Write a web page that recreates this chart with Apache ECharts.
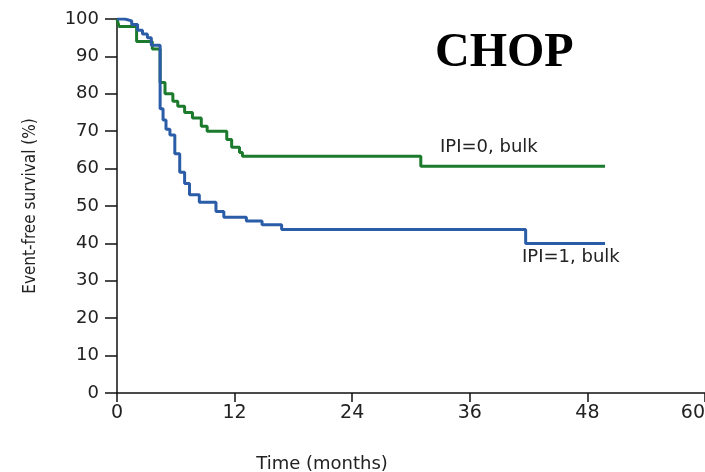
<!DOCTYPE html>
<html lang="en">
<head>
  <meta charset="UTF-8">
  <title>CHOP event-free survival</title>
  <script src="https://cdn.jsdelivr.net/npm/echarts@6/dist/echarts.min.js"></script>
  <style>
    html, body { margin: 0; padding: 0; background: #fff; }
    #chart { width: 705px; height: 472px; }
  </style>
</head>
<body>
  <div id="chart"></div>
  <script>
    // Kaplan-Meier step points (months, % event-free)
    var greenTimes = [0, 0.2, 2.0, 3.6, 4.4, 4.9, 5.7, 6.2, 6.9, 7.7, 8.6, 9.2, 11.2, 11.7, 12.5, 12.8, 31.0, 49.8];
    var greenSurv  = [100, 98, 94, 92, 83, 80, 78, 76.7, 75, 73.5, 71.3, 70, 67.8, 65.7, 64.3, 63.3, 60.6, 60.6];

    var blueTimes = [0, 0.8, 1.5, 2.1, 2.6, 3.1, 3.5, 4.4, 4.7, 5.0, 5.4, 5.9, 6.4, 6.9, 7.4, 8.4, 10.1, 10.9, 13.2, 14.8, 16.8, 41.7, 49.8];
    var blueSurv  = [100, 99.5, 98.5, 97, 96, 95, 93, 76, 73, 70.5, 69, 64, 59, 56, 53, 51, 48.5, 47, 46, 45, 43.7, 40, 40];

    var seriesNames = ['IPI=0, bulk', 'IPI=1, bulk'];

    function pairs(ts, vs) {
      return ts.map(function (t, i) { return [t, vs[i]]; });
    }

    var chart = echarts.init(document.getElementById('chart'));
    var tickFont = 'DejaVu Sans, Verdana, sans-serif';

    chart.setOption({
      animation: false,
      grid: { left: 117, right: 0, top: 19, bottom: 79, outerBoundsMode: 'none' },
      xAxis: {
        type: 'value',
        min: 0, max: 60, interval: 12,
        name: 'Time (months)',
        nameLocation: 'middle',
        nameGap: 62,
        // push the title left of the axis centre, as in the original
        nameTextStyle: { fontFamily: tickFont, fontSize: 18, color: '#222', padding: [0, 178, 0, 0] },
        axisLine: { show: true, lineStyle: { color: '#111', width: 1.5 } },
        axisTick: { show: true, length: 9, lineStyle: { color: '#111', width: 1.5 } },
        axisLabel: { fontFamily: tickFont, fontSize: 19, color: '#222', margin: 11, alignMaxLabel: 'right' },
        splitLine: { show: false }
      },
      yAxis: {
        type: 'value',
        min: 0, max: 100, interval: 10,
        name: 'Event-free survival (%)',
        nameLocation: 'middle',
        nameGap: 78,
        nameRotate: 90,
        nameTextStyle: { fontFamily: 'Liberation Sans Narrow, DejaVu Sans Condensed, Liberation Sans, sans-serif', fontSize: 17, color: '#222' },
        axisLine: { show: true, lineStyle: { color: '#111', width: 1.5 } },
        axisTick: { show: true, length: 12, lineStyle: { color: '#111', width: 1.5 } },
        axisLabel: { fontFamily: tickFont, fontSize: 18, color: '#222', margin: 18 },
        splitLine: { show: false }
      },
      graphic: [
        { type: 'text', left: 435, top: 30, style: { text: 'CHOP', fontFamily: 'Liberation Serif, Times New Roman, serif', fontWeight: 'bold', fontSize: 48, fill: '#000' } },
        { type: 'text', left: 440, top: 138, style: { text: seriesNames[0], fontFamily: tickFont, fontSize: 18, fill: '#222' } },
        { type: 'text', left: 522, top: 248, style: { text: seriesNames[1], fontFamily: tickFont, fontSize: 18, fill: '#222' } }
      ],
      series: [
        {
          name: seriesNames[0],
          type: 'line',
          step: 'end',
          showSymbol: false,
          lineStyle: { color: '#1b7a2c', width: 3 },
          data: pairs(greenTimes, greenSurv)
        },
        {
          name: seriesNames[1],
          type: 'line',
          step: 'end',
          showSymbol: false,
          lineStyle: { color: '#2b5ca8', width: 3 },
          data: pairs(blueTimes, blueSurv)
        }
      ]
    });
  </script>
</body>
</html>
